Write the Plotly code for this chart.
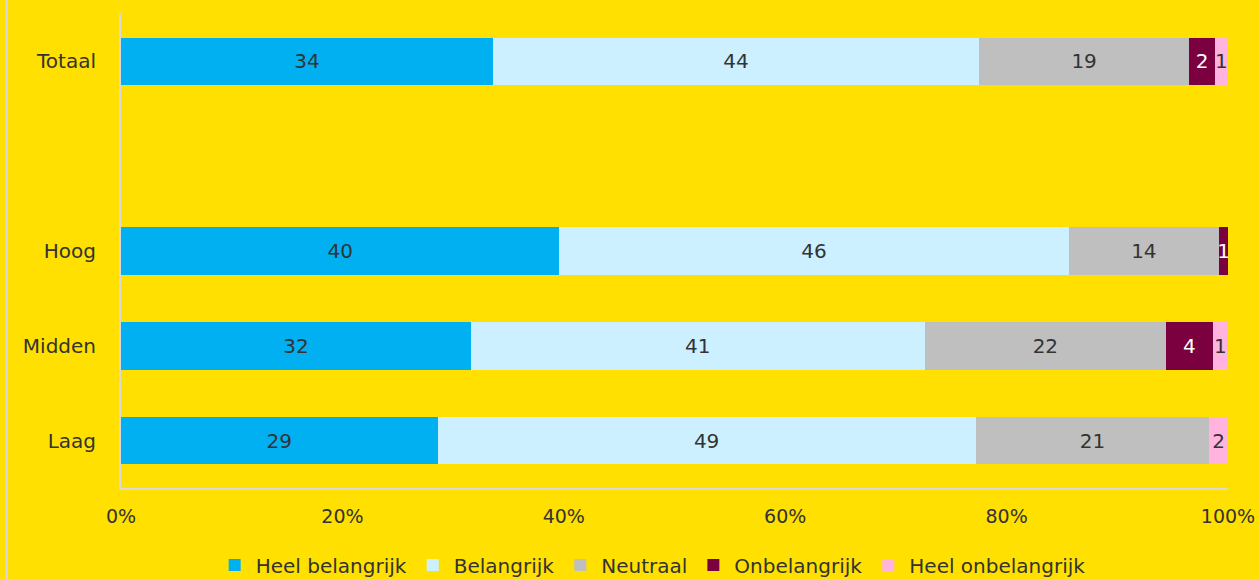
import plotly.graph_objects as go

categories = ["Laag", "Midden", "Hoog", "Totaal"]
y_positions = [0, 1, 2, 4]
series_names = ["Heel belangrijk", "Belangrijk", "Neutraal", "Onbelangrijk", "Heel onbelangrijk"]
heel_belangrijk = [28.6, 31.6, 39.6, 33.6]
belangrijk = [48.6, 41.0, 46.0, 43.9]
neutraal = [21.1, 21.8, 13.6, 19.0]
onbelangrijk = [0.0, 4.2, 0.8, 2.3]
heel_onbelangrijk = [1.7, 1.4, 0.0, 1.2]
x_ticks = [0, 20, 40, 60, 80, 100]
x_tick_labels = ["0%", "20%", "40%", "60%", "80%", "100%"]

colors = ["#00B0F0", "#CCF0FF", "#BFBFBF", "#7B003F", "#FFB3DE"]
text_colors = ["#333333", "#333333", "#333333", "#FFFFFF", "#333333"]
series = [heel_belangrijk, belangrijk, neutraal, onbelangrijk, heel_onbelangrijk]

FONT = "DejaVu Sans"

fig = go.Figure()
for name, vals, col, tcol in zip(series_names, series, colors, text_colors):
    labels = [("%d" % max(1, round(v))) if v > 0 else "" for v in vals]
    fig.add_trace(go.Bar(
        name=name, x=vals, y=y_positions, orientation="h",
        marker=dict(color=col, line=dict(width=0)),
        text=labels, textposition="inside", insidetextanchor="middle",
        textangle=0, constraintext="none",
        textfont=dict(color=tcol, size=20, family=FONT),
        width=0.5, hoverinfo="skip",
    ))

fig.update_layout(
    barmode="stack",
    width=1259, height=579,
    paper_bgcolor="#FFE000", plot_bgcolor="#FFE000",
    margin=dict(l=121, r=31, t=14, b=91, autoexpand=False),
    font=dict(family=FONT, color="#333333", size=20),
    uniformtext=dict(mode=False),
    legend=dict(orientation="h", x=0.518, xanchor="center", xref="container",
                y=0.024, yanchor="middle", yref="container",
                font=dict(size=20, family=FONT, color="#333333"),
                itemwidth=32, traceorder="normal", tracegroupgap=0,
                bgcolor="rgba(0,0,0,0)"),
    showlegend=True,
)
fig.update_xaxes(range=[0, 100], tickvals=x_ticks, ticktext=x_tick_labels,
                 showgrid=False, zeroline=False, showline=True, automargin=False,
                 linecolor="#D9D9D9", linewidth=2, ticks="outside", ticklen=10,
                 tickcolor="rgba(0,0,0,0)", tickfont=dict(size=19, family=FONT, color="#333333"))
fig.update_yaxes(range=[-0.5, 4.5], tickvals=y_positions, ticktext=categories,
                 showgrid=False, zeroline=False, showline=True, automargin=False,
                 linecolor="#D9D9D9", linewidth=2, ticks="outside", ticklen=19,
                 tickcolor="rgba(0,0,0,0)", tickfont=dict(size=20, family=FONT, color="#333333"))
fig.add_shape(type="line", xref="paper", yref="paper", x0=-0.1034, x1=-0.1034, y0=-0.3, y1=1.1,
              line=dict(color="#D9D9D9", width=2))

fig.write_html("out.html", config={"displayModeBar": False, "responsive": False})
with open("out.html", "r", encoding="utf-8") as f:
    html = f.read()
html = html.replace("<body>", '<body style="margin:0;padding:0;overflow:hidden">', 1)
with open("out.html", "w", encoding="utf-8") as f:
    f.write(html)
